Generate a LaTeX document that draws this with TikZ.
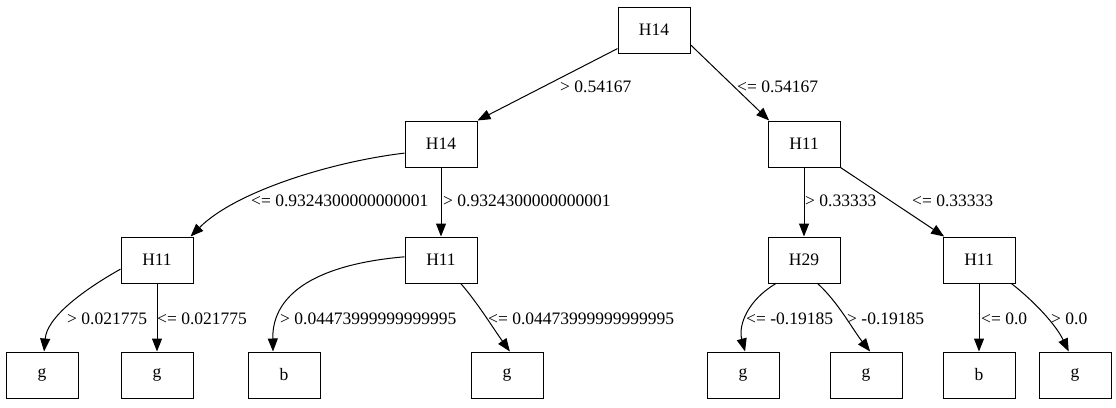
\documentclass[tikz,border=0pt]{standalone}
\usepackage{fontspec}
\setmainfont{Liberation Serif}
\usetikzlibrary{arrows.meta}
\begin{document}
\begin{tikzpicture}[x=1pt,y=-1pt,
  tnode/.style={draw,line width=1pt,minimum width=72pt,minimum height=46pt,inner sep=0pt,font=\fontsize{17.5}{20}\selectfont},
  elabel/.style={anchor=west,inner sep=0pt,font=\fontsize{17.5}{20}\selectfont},
  edge/.style={line width=1pt,-{Triangle[length=13pt,width=10pt]}}]
\useasboundingbox (0,0) rectangle (1116,407);
% decision nodes
\node[tnode] (root) at (654,30) {H14};
\node[tnode] (h14l) at (441,144) {H14};
\node[tnode] (h11r) at (804,144) {H11};
\node[tnode] (h11ll) at (157,260) {H11};
\node[tnode] (h11lr) at (441,260) {H11};
\node[tnode] (h29) at (804,260) {H29};
\node[tnode] (h11rr) at (979,260) {H11};
% leaves
\node[tnode] (l1) at (42,375) {g};
\node[tnode] (l2) at (157,375) {g};
\node[tnode] (l3) at (284,375) {b};
\node[tnode] (l4) at (507,375) {g};
\node[tnode] (l5) at (743,375) {g};
\node[tnode] (l6) at (866,375) {g};
\node[tnode] (l7) at (979,375) {b};
\node[tnode] (l8) at (1075,375) {g};
% edges
\draw[edge] (root.207) -- (h14l.north east);
\draw[edge] (root.-22) -- (h11r.146);
\draw[edge] (h14l.194) .. controls (330,162) and (235,192) .. (h11ll.35);
\draw[edge] (h14l) -- (h11lr);
\draw[edge] (h11r) -- (h29);
\draw[edge] (h11r.south east) -- (h11rr.146);
\draw[edge] (h11ll.194) .. controls (80,292) and (47,318) .. (l1.85);
\draw[edge] (h11ll) -- (l2);
\draw[edge] (h11lr.175) .. controls (320,264) and (272,292) .. (l3.north -| 273,0);
\draw[edge] (h11lr.-50) .. controls (477,302) and (493,328) .. (l4.83);
\draw[edge] (h29.-140) .. controls (748,300) and (738,325) .. (l5.85);
\draw[edge] (h29.-60) .. controls (838,302) and (853,330) .. (l6.80);
\draw[edge] (h11rr) -- (l7);
\draw[edge] (h11rr.-36) .. controls (1035,302) and (1056,325) .. (l8.105);
% edge labels
\node[elabel] (t1) at (560,87) {> 0.54167};
\node[elabel] (t2) at (737,87) {<= 0.54167};
\node[elabel] (t3) at (251,201) {<= 0.9324300000000001};
\node[elabel] (t4) at (443,201) {> 0.9324300000000001};
\node[elabel] (t5) at (805,201) {> 0.33333};
\node[elabel] (t6) at (912,201) {<= 0.33333};
\node[elabel] (t7) at (67,319) {> 0.021775};
\node[elabel] (t8) at (157,319) {<= 0.021775};
\node[elabel] (t9) at (280,319) {> 0.04473999999999995};
\node[elabel] (t10) at (488,319) {<= 0.04473999999999995};
\node[elabel] (t11) at (746,319) {<= -0.19185};
\node[elabel] (t12) at (847,319) {> -0.19185};
\node[elabel] (t13) at (981,319) {<= 0.0};
\node[elabel] (t14) at (1051,319) {> 0.0};
\end{tikzpicture}
\end{document}
